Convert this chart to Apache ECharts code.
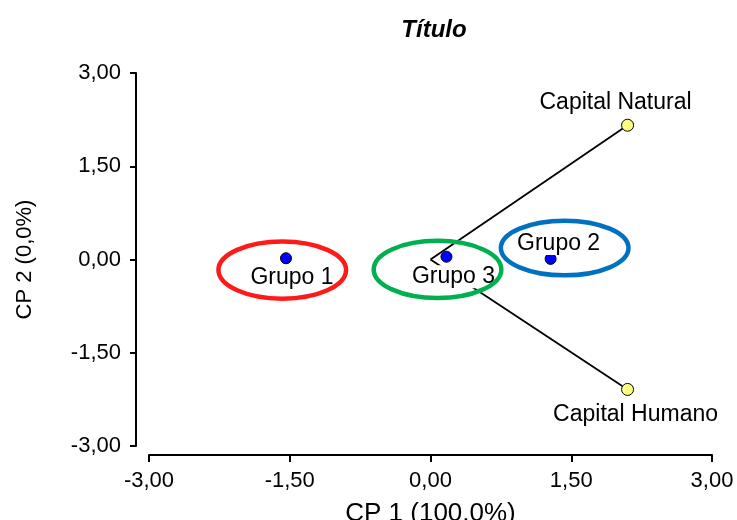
<!DOCTYPE html>
<html>
<head>
<meta charset="utf-8">
<script src="https://cdn.jsdelivr.net/npm/echarts@6/dist/echarts.min.js"></script>
<style>
html,body{margin:0;padding:0;background:#fff;}
#chart{width:737px;height:520px;}
</style>
</head>
<body>
<div id="chart"></div>
<script>
// ---- data ----
const titleText = 'Título';
const xAxisName = 'CP 1 (100,0%)';
const yAxisName = 'CP 2 (0,0%)';
const axisMin = -3;
const axisMax = 3;
const axisStep = 1.5;

const groupNames = ['Grupo 1', 'Grupo 2', 'Grupo 3'];
const groupX = [-1.54, 1.28, 0.17];
const groupY = [0.02, 0.01, 0.045];

const varNames = ['Capital Natural', 'Capital Humano'];
const varX = [2.10, 2.10];
const varY = [2.16, -2.09];

// ellipses around groups: centre x, centre y, radius x, radius y (data units)
const ellipseCX = [-1.58, 1.43, 0.075];
const ellipseCY = [-0.17, 0.185, -0.16];
const ellipseRX = [0.68, 0.68, 0.68];
const ellipseRY = [0.46, 0.44, 0.46];
const ellipseColors = ['#ff1a1a', '#0070c0', '#00b050'];

// ---- styles ----
const FONT = "'Liberation Sans', Arial, sans-serif";
const groupLabelOffsets = [[6, 19], [8, -15.5], [7, 20]];
const varLabelOffsets = [[-12, -22.5], [8, 25]];

const fmt = v => v.toFixed(2).replace('.', ',');

const groupData = groupNames.map((n, i) => ({
  name: n,
  value: [groupX[i], groupY[i]],
  label: { offset: groupLabelOffsets[i] }
}));
const varData = varNames.map((n, i) => ({
  name: n,
  value: [varX[i], varY[i]],
  label: { offset: varLabelOffsets[i] }
}));
const lineSeries = varNames.map((n, i) => ({
  type: 'line',
  z: 1,
  silent: true,
  symbol: 'none',
  data: [[0, 0], [varX[i], varY[i]]],
  lineStyle: { color: '#000', width: 1.8 },
  animation: false
}));
const ellipseData = ellipseCX.map((c, i) => [c, ellipseCY[i], ellipseRX[i], ellipseRY[i], i]);

const chart = echarts.init(document.getElementById('chart'));
chart.setOption({
  animation: false,
  backgroundColor: '#fff',
  title: {
    text: titleText,
    left: 429,
    top: 13,
    textAlign: 'center',
    textStyle: { fontFamily: FONT, fontSize: 24, fontWeight: 'bold', fontStyle: 'italic', color: '#000' }
  },
  grid: { left: 149, right: 25, top: 73, bottom: 74, containLabel: false, outerBoundsMode: 'none' },
  xAxis: {
    type: 'value',
    min: axisMin, max: axisMax, interval: axisStep,
    offset: 9,
    name: xAxisName,
    nameLocation: 'middle',
    nameGap: 46,
    nameTextStyle: { fontFamily: FONT, fontSize: 26, color: '#000' },
    axisLine: { show: true, onZero: false, lineStyle: { color: '#000', width: 2 } },
    axisTick: { show: true, length: 7, lineStyle: { color: '#000', width: 2 } },
    axisLabel: { fontFamily: FONT, fontSize: 22, color: '#000', margin: 15, formatter: fmt },
    splitLine: { show: false }
  },
  yAxis: {
    type: 'value',
    min: axisMin, max: axisMax, interval: axisStep,
    offset: 13,
    name: yAxisName,
    nameLocation: 'middle',
    nameGap: 100,
    nameTextStyle: { fontFamily: FONT, fontSize: 22, color: '#000' },
    axisLine: { show: true, onZero: false, lineStyle: { color: '#000', width: 2 } },
    axisTick: { show: true, length: 6, lineStyle: { color: '#000', width: 2 } },
    axisLabel: { fontFamily: FONT, fontSize: 22, color: '#000', margin: 15, formatter: fmt },
    splitLine: { show: false }
  },
  series: [
    ...lineSeries,
    {
      type: 'scatter',
      z: 2,
      data: groupData,
      symbolSize: 11,
      itemStyle: { color: '#0000ff', borderColor: '#000', borderWidth: 1, opacity: 1 },
      label: {
        show: true, position: 'inside', formatter: '{b}',
        fontFamily: FONT, fontSize: 23, color: '#000', textBorderWidth: 0,
        backgroundColor: '#fff', padding: [0, 0]
      }
    },
    {
      type: 'scatter',
      z: 2,
      data: varData,
      symbolSize: 12,
      itemStyle: { color: '#ffff80', borderColor: '#000', borderWidth: 1, opacity: 1 },
      label: {
        show: true, position: 'inside', formatter: '{b}',
        fontFamily: FONT, fontSize: 23, color: '#000', textBorderWidth: 0
      }
    },
    {
      type: 'custom',
      z: 3,
      silent: true,
      data: ellipseData,
      encode: { x: 0, y: 1 },
      renderItem: function (params, api) {
        const c = api.coord([api.value(0), api.value(1)]);
        const s = api.size([api.value(2), api.value(3)]);
        return {
          type: 'ellipse',
          shape: { cx: c[0], cy: c[1], rx: s[0], ry: s[1] },
          style: { fill: 'none', stroke: ellipseColors[api.value(4)], lineWidth: 4.5 }
        };
      }
    }
  ]
});
</script>
</body>
</html>
